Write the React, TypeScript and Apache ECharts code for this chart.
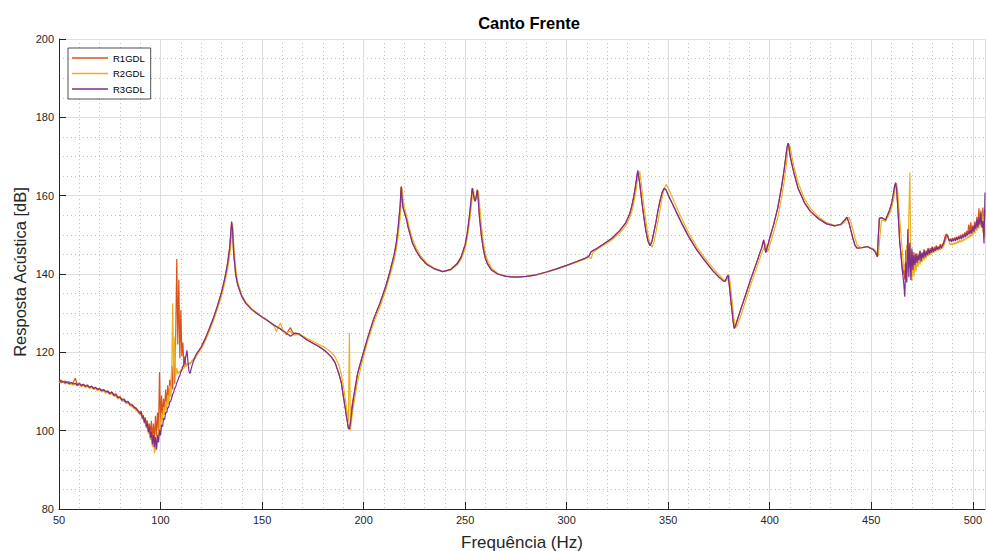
import React, { useEffect, useRef } from "react";
import * as echarts from "echarts";

// ---------- data ----------
const seriesNames = ["R1GDL", "R2GDL", "R3GDL"];
const yTicks = [80, 100, 120, 140, 160, 180, 200];
const xTicks = [50, 100, 150, 200, 250, 300, 350, 400, 450, 500];

// frequency samples (Hz)
const freqLow = [
  50, 51, 52, 53, 54, 55, 56, 57, 58, 59,
  60, 61, 62, 63, 64, 65, 66, 67, 68, 69,
  70, 71, 72, 73, 74, 75, 76, 77, 78, 79,
  80, 81, 82, 83, 84, 85, 86, 87, 88, 89,
];
const freqNoiseA = [
  90, 90.5, 91, 91.5, 92, 92.5, 93, 93.5, 94, 94.5,
  95, 95.5, 96, 96.5, 97, 97.5, 98, 98.5, 99, 99.5,
  100, 100.5, 101, 101.5, 102, 102.5, 103, 103.5, 104, 104.5,
  105, 105.5, 106, 106.5, 107, 107.5, 108, 108.5, 109, 109.5,
  110, 110.5, 111, 111.5, 112, 112.5, 113, 113.5, 114, 114.5,
  115, 115.5, 116,
];
const freqMid = [
  117, 118, 120, 122, 124, 126, 128, 130, 131, 132,
  133, 134, 134.5, 135, 135.5, 136, 137, 138, 140, 142,
  145, 148, 150, 153, 156, 157, 158, 159, 160, 161,
  162, 163, 164, 165, 166, 168, 170, 172, 175, 178,
  181, 184, 186, 188, 189, 190, 191, 191.5, 192, 192.5,
  193, 193.5, 194, 195, 197, 199, 202, 205, 208, 211,
  213, 215, 216, 217, 218, 218.5, 219, 219.5, 220, 221,
  222, 224, 226, 228, 231, 235, 239, 243, 246, 248,
  250, 251, 252, 253, 253.5, 254, 254.5, 255, 255.5, 256,
  256.5, 257, 258, 259, 260, 261, 263, 266, 270, 275,
  280, 285, 290, 295, 300, 305, 309, 310, 311, 312,
  313, 315, 318, 322, 326, 329, 331, 332, 333, 334,
  335, 336, 337, 338, 339, 340, 341, 342, 343, 344,
  345, 346, 347, 348, 349, 350, 352, 354, 357, 360,
  364, 368, 372, 375, 377, 378, 379, 379.5, 380, 381,
  382, 382.5, 383, 384, 386, 388, 391, 394, 395, 396,
  397, 398, 399, 400, 402, 404, 406, 407, 408, 408.5,
  409, 409.5, 410, 411, 412, 414, 417, 420, 424, 428,
  432, 435, 437, 438, 439, 440, 441, 442, 443, 445,
  448, 451, 452, 453, 453.5, 454, 455, 457, 459, 460,
  461, 461.5, 462, 462.5, 463, 463.5, 464,
];
const freqNoiseB = [
  464.5, 465, 465.5, 466, 466.5, 467, 467.5, 468, 468.5, 469,
  469.5, 470, 470.5, 471, 471.5, 472, 472.5, 473, 473.5, 474,
  474.5, 475, 475.5, 476, 476.5, 477, 477.5, 478, 478.5, 479,
  479.5, 480, 480.5, 481, 481.5, 482, 482.5, 483, 483.5, 484,
  484.5, 485, 485.5, 486, 486.5, 487, 487.5, 488, 488.5, 489,
  489.5, 490, 490.5, 491, 491.5, 492, 492.5, 493, 493.5, 494,
  494.5, 495, 495.5, 496, 496.5, 497, 497.5, 498, 498.5, 499,
  499.5, 500, 500.5, 501, 501.5, 502, 502.5, 503, 503.5, 504,
  504.5, 505, 505.5, 506,
];

// ---- R1GDL (dB) ----
const r1Low = [
  112.6, 112.9, 112.3, 112.7, 112.1, 112.5, 111.9, 112.3, 113.4, 111.8,
  112.2, 111.6, 111.9, 111.4, 111.7, 111.1, 111.4, 110.9, 111.1, 110.6,
  110.8, 110.3, 110.5, 110.0, 110.2, 109.6, 109.9, 109.2, 109.4, 108.6,
  108.7, 108.0, 108.1, 107.4, 107.5, 106.8, 106.7, 106.1, 105.8, 105.1,
];
const r1NoiseA = [
  104.6, 105.0, 103.5, 104.0, 102.5, 103.4, 101.5, 102.6, 100.5, 101.8,
  99.4, 102.5, 98.0, 101.8, 97.5, 103.8, 98.6, 104.6, 100.0, 115.0,
  101.5, 109.0, 103.5, 108.2, 104.8, 110.5, 106.0, 111.6, 107.4, 113.0,
  109.0, 116.5, 110.5, 119.5, 112.0, 125.0, 143.8, 122.0, 138.5, 118.5,
  130.8, 119.0, 122.5, 116.2, 119.0, 116.4, 117.0, 116.8, 117.2, 117.0,
  117.4, 117.8, 118.1,
];
const r1Mid = [
  118.8, 119.8, 121.3, 123.5, 126.0, 128.7, 131.8, 135.3, 137.4, 139.8,
  142.8, 146.6, 150.0, 153.2, 150.5, 145.2, 139.8, 137.2, 134.3, 132.5,
  130.9, 129.7, 129.0, 128.0, 126.9, 126.6, 126.3, 126.0, 125.6, 125.2,
  124.5, 125.6, 126.3, 125.2, 124.7, 124.6, 124.0, 123.2, 122.3, 121.5,
  120.4, 118.9, 117.3, 114.2, 112.3, 108.9, 105.6, 103.8, 102.3, 100.6,
  100.4, 102.2, 105.5, 108.6, 114.5, 118.3, 123.7, 128.6, 132.5, 137.0,
  140.7, 144.8, 147.6, 151.8, 157.5, 162.3, 158.8, 156.8, 155.9, 154.2,
  151.8, 148.0, 145.8, 144.2, 142.5, 141.3, 140.6, 141.2, 142.6, 144.3,
  147.5, 150.3, 154.3, 159.2, 161.9, 160.6, 159.1, 158.6, 159.9, 161.5,
  158.8, 154.8, 149.8, 146.3, 143.9, 142.6, 141.0, 140.0, 139.4, 139.2,
  139.4, 139.8, 140.5, 141.3, 142.2, 143.2, 144.0, 144.3, 144.6, 145.7,
  146.0, 146.6, 147.6, 149.0, 151.0, 153.0, 155.3, 157.2, 159.7, 162.8,
  166.4, 163.0, 158.5, 154.5, 151.0, 148.5, 147.2, 148.3, 150.8, 153.4,
  156.3, 158.8, 160.8, 161.9, 161.4, 160.2, 158.0, 155.8, 152.6, 149.6,
  146.2, 143.4, 140.8, 139.2, 138.3, 138.1, 139.3, 139.7, 137.5, 132.5,
  127.8, 126.1, 126.6, 128.2, 131.4, 134.5, 139.2, 143.6, 145.2, 146.6,
  148.7, 145.5, 147.2, 149.2, 152.8, 157.0, 162.8, 166.3, 170.3, 172.2,
  173.4, 172.3, 170.2, 167.8, 165.6, 161.8, 158.3, 156.0, 154.1, 152.8,
  152.3, 152.7, 153.8, 154.5, 153.1, 151.0, 149.0, 147.3, 146.6, 146.7,
  147.0, 146.2, 145.6, 144.4, 150.0, 154.2, 154.4, 153.8, 156.3, 158.0,
  160.8, 162.5, 163.3, 161.5, 157.5, 153.0, 148.0,
];
const r1NoiseB = [
  146.0, 143.0, 139.8, 141.5, 138.6, 146.2, 140.4, 149.0, 141.6, 147.2,
  139.6, 145.8, 141.8, 145.6, 142.6, 145.0, 143.4, 145.2, 143.8, 146.0,
  144.0, 145.2, 144.6, 146.3, 144.8, 146.0, 145.0, 146.7, 145.3, 146.6,
  145.8, 147.0, 145.9, 146.9, 146.1, 147.3, 146.5, 147.0, 146.6, 147.6,
  146.9, 147.5, 148.0, 148.8, 149.9, 150.2, 150.0, 149.2, 148.6, 149.0,
  148.5, 149.2, 148.6, 149.3, 148.8, 149.5, 148.9, 149.7, 149.1, 150.0,
  149.3, 150.2, 149.5, 150.6, 149.8, 151.0, 150.2, 152.6, 150.5, 153.2,
  150.8, 152.4, 151.2, 153.4, 151.8, 154.6, 152.4, 156.8, 153.0, 156.2,
  152.8, 157.0, 150.8, 156.5,
];

// ---- R2GDL (dB) ----
const r2Low = [
  112.4, 112.2, 112.5, 111.9, 112.3, 111.8, 112.1, 111.6, 111.9, 111.4,
  111.7, 111.2, 111.5, 111.0, 111.3, 110.8, 111.0, 110.5, 110.7, 110.2,
  110.4, 109.9, 110.1, 109.6, 109.8, 109.2, 109.5, 108.8, 108.9, 108.1,
  108.3, 107.5, 107.6, 106.9, 107.1, 106.3, 106.2, 105.6, 105.3, 104.6,
];
const r2NoiseA = [
  104.0, 104.5, 102.9, 103.4, 101.8, 102.6, 100.6, 101.4, 99.2, 100.4,
  97.6, 99.2, 95.8, 97.9, 94.2, 96.5, 95.0, 99.5, 97.2, 103.0,
  99.5, 104.5, 102.6, 106.0, 104.0, 107.5, 105.4, 109.0, 106.8, 111.5,
  108.6, 115.0, 132.5, 112.0, 124.0, 114.0, 116.0, 114.4, 115.2, 114.8,
  115.6, 115.2, 116.0, 115.9, 116.4, 116.6, 117.0, 116.9, 117.3, 117.2,
  117.5, 117.7, 118.0,
];
const r2Mid = [
  118.4, 119.4, 120.8, 122.9, 125.3, 128.0, 131.0, 134.3, 136.3, 138.6,
  141.2, 144.5, 147.0, 150.5, 152.8, 148.0, 141.5, 138.0, 134.7, 132.8,
  131.1, 129.9, 129.1, 128.1, 126.6, 125.3, 126.4, 127.5, 126.0, 125.0,
  124.8, 125.2, 125.4, 124.6, 124.4, 124.6, 124.2, 123.6, 122.8, 122.0,
  121.2, 120.0, 118.8, 116.5, 114.4, 111.5, 108.0, 106.0, 104.2, 102.3,
  125.0, 100.0, 102.3, 106.3, 112.5, 117.0, 122.8, 127.6, 131.5, 136.0,
  139.6, 143.5, 146.0, 149.5, 154.5, 158.5, 162.0, 159.0, 157.2, 155.3,
  153.0, 149.0, 146.5, 144.7, 142.8, 141.4, 140.6, 141.0, 142.2, 143.7,
  146.5, 149.0, 152.5, 157.0, 159.8, 161.8, 159.8, 158.8, 159.2, 160.5,
  161.3, 158.5, 152.5, 148.0, 145.2, 143.5, 141.5, 140.2, 139.5, 139.2,
  139.3, 139.7, 140.4, 141.2, 142.1, 143.0, 143.8, 144.1, 144.3, 143.9,
  145.5, 146.3, 147.3, 148.6, 150.4, 152.2, 154.3, 155.8, 158.0, 160.8,
  164.5, 166.2, 162.0, 157.5, 153.5, 150.2, 148.0, 146.8, 148.2, 150.8,
  153.6, 156.5, 159.5, 161.8, 162.9, 162.0, 159.6, 157.2, 153.8, 150.6,
  147.0, 144.1, 141.5, 139.8, 138.7, 138.3, 138.4, 139.2, 139.8, 135.5,
  130.5, 127.8, 126.2, 126.8, 129.8, 133.0, 137.8, 142.2, 143.8, 145.2,
  146.5, 147.8, 145.6, 147.4, 150.8, 154.6, 160.0, 163.3, 167.2, 169.5,
  171.8, 173.2, 172.6, 169.8, 167.2, 163.3, 159.3, 156.8, 154.6, 153.1,
  152.4, 152.5, 153.3, 154.1, 154.5, 153.2, 151.2, 149.2, 147.4, 146.6,
  147.0, 146.5, 146.0, 145.3, 144.6, 148.0, 153.8, 153.5, 155.3, 156.8,
  159.2, 160.8, 162.5, 163.2, 161.0, 157.5, 154.0,
];
const r2NoiseB = [
  151.0, 147.5, 144.5, 141.0, 142.5, 139.0, 147.5, 142.0, 155.0, 165.9,
  140.5, 138.2, 143.2, 139.4, 142.8, 140.6, 143.6, 141.8, 144.0, 142.4,
  144.3, 143.0, 144.6, 143.5, 145.0, 144.0, 145.2, 144.5, 145.6, 144.8,
  145.9, 145.2, 146.2, 145.5, 146.3, 145.8, 146.5, 146.0, 146.7, 146.2,
  146.8, 146.5, 147.0, 147.6, 148.5, 149.2, 149.6, 149.4, 147.8, 147.4,
  147.9, 147.3, 148.0, 147.5, 148.2, 147.7, 148.4, 147.9, 148.6, 148.1,
  148.8, 148.3, 149.0, 148.6, 149.3, 148.9, 149.6, 149.2, 150.0, 149.5,
  150.8, 149.8, 151.4, 150.3, 152.2, 151.0, 153.2, 151.6, 154.4, 152.0,
  155.6, 150.5, 154.8, 149.5,
];

// ---- R3GDL (dB) ----
const r3Low = [
  112.8, 112.4, 112.6, 112.2, 112.5, 112.0, 112.3, 111.9, 112.1, 111.6,
  112.0, 111.5, 111.8, 111.3, 111.5, 111.0, 111.3, 110.8, 111.0, 110.5,
  110.7, 110.2, 110.4, 109.9, 110.0, 109.5, 109.8, 109.0, 109.2, 108.4,
  108.6, 107.8, 107.9, 107.2, 107.4, 106.6, 106.5, 105.9, 105.6, 104.9,
];
const r3NoiseA = [
  104.3, 104.8, 103.2, 103.6, 102.1, 102.9, 101.0, 101.8, 99.6, 100.9,
  98.2, 99.8, 96.5, 98.9, 95.8, 98.4, 95.2, 98.8, 97.0, 100.2,
  98.8, 101.5, 101.0, 103.2, 102.8, 104.6, 104.6, 105.8, 106.0, 107.3,
  107.5, 108.4, 109.3, 109.9, 110.8, 111.3, 112.2, 112.8, 113.6, 114.1,
  115.0, 115.6, 116.4, 117.0, 118.0, 119.0, 120.5, 117.6, 115.2, 114.6,
  115.6, 116.6, 117.4,
];
const r3Mid = [
  118.8, 119.8, 121.3, 123.5, 126.0, 128.7, 131.8, 135.3, 137.4, 139.8,
  142.6, 146.3, 149.5, 153.4, 151.0, 145.5, 140.0, 137.3, 134.3, 132.5,
  130.9, 129.7, 129.0, 128.0, 126.9, 126.6, 126.3, 126.0, 125.6, 125.3,
  124.9, 124.5, 124.1, 124.5, 124.9, 124.8, 124.0, 123.2, 122.3, 121.5,
  120.4, 118.9, 117.3, 114.2, 112.3, 108.9, 105.6, 103.8, 102.3, 100.6,
  100.4, 102.0, 104.2, 108.2, 114.5, 118.3, 123.7, 128.6, 132.5, 137.0,
  140.7, 144.8, 147.6, 151.8, 157.5, 162.3, 158.8, 156.8, 155.9, 154.2,
  151.8, 148.0, 145.8, 144.2, 142.5, 141.3, 140.6, 141.2, 142.6, 144.3,
  147.5, 150.3, 154.3, 159.2, 161.9, 160.6, 159.1, 158.6, 159.9, 161.5,
  158.8, 154.8, 149.8, 146.3, 143.9, 142.6, 141.0, 140.0, 139.4, 139.2,
  139.4, 139.8, 140.5, 141.3, 142.2, 143.2, 144.0, 144.3, 144.6, 145.7,
  146.0, 146.6, 147.6, 149.0, 151.0, 153.0, 155.3, 157.2, 159.7, 162.8,
  166.4, 163.0, 158.5, 154.5, 151.0, 148.5, 147.2, 148.3, 150.8, 153.4,
  156.3, 158.8, 160.8, 161.9, 161.4, 160.2, 158.0, 155.8, 152.6, 149.6,
  146.2, 143.4, 140.8, 139.2, 138.3, 138.1, 139.3, 139.7, 137.5, 132.5,
  127.8, 126.1, 126.6, 128.2, 131.4, 134.5, 139.2, 143.6, 145.2, 146.6,
  148.7, 145.5, 147.2, 149.2, 152.8, 157.0, 162.8, 166.3, 170.3, 172.2,
  173.4, 172.3, 170.2, 167.8, 165.6, 161.8, 158.3, 156.0, 154.1, 152.8,
  152.3, 152.7, 153.8, 154.5, 153.1, 151.0, 149.0, 147.3, 146.6, 146.7,
  147.0, 146.2, 145.6, 144.4, 150.0, 154.2, 154.4, 153.8, 156.3, 158.0,
  160.8, 162.5, 163.3, 161.5, 157.5, 153.0, 148.0,
];
const r3NoiseB = [
  145.5, 142.5, 140.0, 137.5, 134.2, 143.0, 137.8, 151.5, 139.2, 148.0,
  138.5, 146.5, 141.0, 144.8, 142.2, 145.3, 142.8, 144.6, 143.5, 145.8,
  143.2, 145.5, 144.0, 146.0, 144.3, 145.6, 144.8, 146.4, 145.0, 146.2,
  145.4, 146.8, 145.6, 146.5, 145.9, 147.0, 146.2, 146.8, 146.4, 147.3,
  146.6, 147.2, 147.6, 148.4, 149.3, 149.7, 149.9, 149.0, 148.4, 148.8,
  148.2, 148.9, 148.4, 149.0, 148.5, 149.3, 148.7, 149.4, 148.9, 149.6,
  149.0, 149.8, 149.3, 150.2, 149.5, 150.5, 149.9, 150.9, 150.2, 151.3,
  150.4, 152.0, 150.8, 152.6, 151.5, 153.8, 151.9, 154.5, 152.6, 155.6,
  151.8, 153.5, 147.8, 160.8,
];

const seriesColors = ["#D95319", "#EDB120", "#7E2F8E"];

// ---------- build ----------
const freq = [...freqLow, ...freqNoiseA, ...freqMid, ...freqNoiseB];
const r1 = [...r1Low, ...r1NoiseA, ...r1Mid, ...r1NoiseB];
const r2 = [...r2Low, ...r2NoiseA, ...r2Mid, ...r2NoiseB];
const r3 = [...r3Low, ...r3NoiseA, ...r3Mid, ...r3NoiseB];
const toPairs = (vals: number[]) => freq.map((f, i) => [f, vals[i]]);
const seriesValues = [r1, r2, r3];

const FONT = '"Liberation Sans", Arial, Helvetica, sans-serif';
const AX = "#262626";
const X_MIN = 50;
const X_MAX = 506;
const Y_MIN = 80;
const Y_MAX = 200;

const hiddenAxisParts = {
  axisLine: { show: false },
  axisTick: { show: false },
  axisLabel: { show: false },
};

export default function App() {
  const ref = useRef<HTMLDivElement>(null);
  useEffect(() => {
    if (!ref.current) return;
    const chart = echarts.init(ref.current, null, { renderer: "svg" });
    const option = {
      animation: false,
      backgroundColor: "#ffffff",
      textStyle: { fontFamily: FONT },
      grid: { left: 59, right: 2, top: 39, bottom: 42, containLabel: false },
      legend: {
        data: seriesNames,
        orient: "vertical",
        left: 68,
        top: 48,
        icon: "rect",
        itemWidth: 36,
        itemHeight: 1.3,
        itemGap: 3.5,
        padding: [4, 6, 4, 4],
        borderColor: AX,
        borderWidth: 0.8,
        backgroundColor: "#ffffff",
        textStyle: { fontSize: 9.5, lineHeight: 12, color: "#000", fontFamily: FONT },
      },
      xAxis: [
        {
          type: "value",
          min: X_MIN,
          max: X_MAX,
          interval: 50,
          z: 2,
          axisLine: { show: true, onZero: false, lineStyle: { color: AX, width: 1 } },
          axisTick: { show: true, inside: true, length: 7, lineStyle: { color: AX, width: 1 } },
          axisLabel: {
            color: AX,
            fontSize: 11,
            margin: 5,
            fontFamily: FONT,
            showMaxLabel: false,
            formatter: (v: number) => (xTicks.includes(v) ? String(v) : ""),
          },
          splitLine: { show: true, lineStyle: { color: "#dedede", width: 1 } },
        },
        {
          type: "value",
          min: X_MIN,
          max: X_MAX,
          interval: 10,
          position: "top",
          z: 1,
          ...hiddenAxisParts,
          splitLine: { show: true, lineStyle: { color: "#c2c2c2", width: 1, type: [1, 3] } },
        },
      ],
      yAxis: [
        {
          type: "value",
          min: Y_MIN,
          max: Y_MAX,
          interval: 20,
          z: 2,
          axisLine: { show: true, onZero: false, lineStyle: { color: AX, width: 1 } },
          axisTick: { show: true, inside: true, length: 7, lineStyle: { color: AX, width: 1 } },
          axisLabel: {
            color: AX,
            fontSize: 11,
            margin: 5,
            fontFamily: FONT,
            formatter: (v: number) => (yTicks.includes(v) ? String(v) : ""),
          },
          splitLine: { show: true, lineStyle: { color: "#dedede", width: 1 } },
        },
        {
          type: "value",
          min: Y_MIN,
          max: Y_MAX,
          interval: 5,
          position: "right",
          z: 1,
          ...hiddenAxisParts,
          splitLine: { show: true, lineStyle: { color: "#c2c2c2", width: 1, type: [1, 3] } },
        },
      ],
      graphic: [
        {
          type: "text",
          x: 529,
          y: 23,
          style: {
            text: "Canto Frente",
            font: `bold 16.5px ${FONT}`,
            fill: "#000",
            textAlign: "center",
            textVerticalAlign: "middle",
          },
        },
        {
          type: "text",
          x: 522,
          y: 542,
          style: {
            text: "Frequência (Hz)",
            font: `17px ${FONT}`,
            fill: AX,
            textAlign: "center",
            textVerticalAlign: "middle",
          },
        },
        {
          type: "text",
          x: 20,
          y: 272,
          rotation: Math.PI / 2,
          style: {
            text: "Resposta Acústica [dB]",
            font: `16.5px ${FONT}`,
            fill: AX,
            textAlign: "center",
            textVerticalAlign: "middle",
          },
        },
      ],
      series: seriesNames.map((name, k) => ({
        name,
        type: "line",
        xAxisIndex: 0,
        yAxisIndex: 0,
        data: toPairs(seriesValues[k]),
        symbol: "none",
        showSymbol: false,
        smooth: false,
        lineStyle: { color: seriesColors[k], width: 1.2 },
        itemStyle: { color: seriesColors[k] },
        emphasis: { disabled: true },
        z: 3 + k,
      })),
    };
    chart.setOption(option as any);
    return () => chart.dispose();
  }, []);
  return (
    <div
      ref={ref}
      style={{ position: "fixed", left: 0, top: 0, width: 987, height: 551, background: "#fff" }}
    />
  );
}
